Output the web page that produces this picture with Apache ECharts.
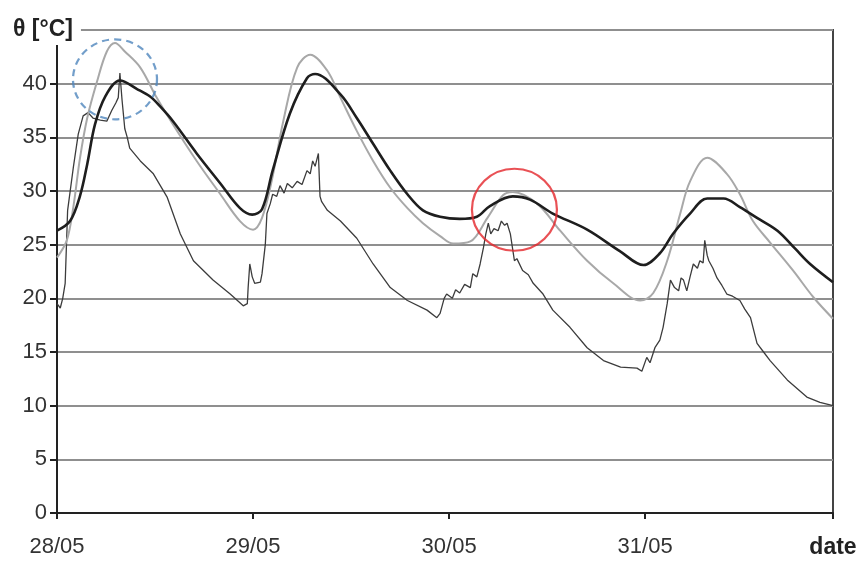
<!DOCTYPE html>
<html>
<head>
<meta charset="utf-8">
<script src="https://cdn.jsdelivr.net/npm/echarts@6/dist/echarts.min.js"></script>
<style>
html,body{margin:0;padding:0;background:#fff;}
#chart{width:862px;height:563px;}
</style>
</head>
<body>
<div id="chart"></div>
<script>
// x values are hours since 28/05 00:00
const dayLabels = ['28/05', '29/05', '30/05', '31/05'];
const yTicks = [0, 5, 10, 15, 20, 25, 30, 35, 40, 45];

// thick black line
const blackX = [0,1.6,2.8,3.7,4.65,5.9,7.7,9.8,11.4,12.6,14.2,17.1,20.0,22.4,23.9,25.1,26.4,28.5,30.6,31.6,34.7,36.7,38.7,40.8,42.9,44.8,46.9,49.3,51.4,53.0,55.8,57.9,60.7,64.9,68.9,71.8,73.8,75.4,77.5,79.6,81.6,83.6,85.7,88.2,90.4,92.2,95];
const blackY = [26.3,27.2,29.5,32.5,36.2,38.8,40.3,39.5,38.8,37.9,36.5,33.5,30.7,28.4,27.8,28.3,31.9,37.2,40.5,40.9,39.0,36.8,34.4,31.9,29.7,28.2,27.6,27.4,27.6,28.6,29.5,29.2,27.9,26.4,24.4,23.1,24.2,26.0,27.9,29.3,29.3,28.5,27.5,26.3,24.6,23.2,21.5];

// light grey line
const greyX = [0,1.2,2.0,2.8,3.7,4.9,6.1,7.1,8.3,10.2,12.2,14.2,17.1,20.0,22.4,24.0,25.1,26.3,27.7,29.4,31.0,33.1,34.7,36.7,38.7,40.8,42.9,44.8,46.9,48.5,50.6,52.7,54.6,55.8,58.8,61.6,64.9,68.1,71.4,73.0,74.7,76.3,77.5,79.6,82.0,83.6,85.2,87.3,90.1,92.6,95];
const greyY = [23.8,25.4,28.5,33.0,36.8,40.2,43.0,43.8,43.0,41.5,38.7,36.2,32.8,29.7,27.2,26.4,27.5,31.0,36.5,41.5,42.7,41.2,38.7,35.6,32.8,30.3,28.4,27.0,25.8,25.1,25.3,27.5,29.6,29.9,28.8,26.3,23.5,21.4,19.8,20.5,23.5,27.9,30.9,33.1,31.6,29.7,27.2,25.2,22.6,20.1,18.1];

// thin noisy line
const noisyX = [0,0.4,0.7,1.0,1.3,2.0,2.6,3.2,3.8,4.4,5.3,6.1,6.7,7.2,7.5,7.7,7.96,8.3,8.6,8.9,10.2,11.8,13.5,15.1,16.7,19.1,21.2,22.8,23.3,23.4,23.6,23.9,24.2,24.9,25.1,25.5,25.7,26.1,26.4,26.9,27.3,27.8,28.2,28.8,29.4,30.0,30.6,31.0,31.3,31.6,32.0,32.2,32.4,33.1,34.7,36.7,38.7,40.8,42.9,45.3,46.5,46.9,47.4,47.7,48.4,48.8,49.3,49.9,50.6,50.9,51.4,51.8,52.2,52.5,52.8,53.1,53.5,54.0,54.4,54.8,55.1,55.5,56.0,56.3,57.0,57.7,58.3,59.5,60.7,62.8,64.9,66.9,69.0,71.0,71.6,72.2,72.6,73.2,73.8,74.2,74.7,75.1,75.6,76.1,76.4,76.7,77.1,77.5,77.9,78.4,78.7,79.1,79.3,79.6,79.8,80.3,80.8,81.4,82.0,82.7,83.6,84.2,84.9,85.7,86.5,87.3,89.4,91.8,93.4,95];
const noisyY = [19.5,19.1,20.0,21.4,28.2,32.2,35.3,37.0,37.3,36.8,36.6,36.5,37.5,38.2,38.7,41.0,38.5,35.8,35.0,34.0,32.8,31.6,29.4,26.0,23.5,21.7,20.4,19.3,19.5,21.0,23.2,22.0,21.4,21.5,22.3,25.0,27.9,28.8,29.7,29.5,30.5,29.8,30.7,30.3,30.9,30.6,31.9,31.6,32.8,32.3,33.5,29.5,29.0,28.2,27.2,25.6,23.2,21.0,19.8,18.9,18.2,18.6,20.0,20.4,20.0,20.8,20.5,21.3,21.0,22.3,22.0,23.2,24.7,26.0,27.0,26.0,26.5,26.3,27.2,26.8,27.0,26.0,23.5,23.7,22.6,22.2,21.4,20.4,18.9,17.3,15.4,14.2,13.6,13.5,13.2,14.5,14.0,15.4,16.1,17.3,19.5,21.7,21.0,20.7,21.9,21.7,20.7,22.0,23.2,22.8,23.5,23.3,25.4,24.0,23.5,22.8,21.9,21.2,20.4,20.2,19.8,19.0,18.2,15.8,15.0,14.2,12.4,10.8,10.3,10.0];

// annotation circles (centre in data coords)
const blueCircle = [7.1, 40.4];
const redCircle = [56.0, 28.25];

const zip = (xs, ys) => xs.map((x, i) => [x, ys[i]]);

const chart = echarts.init(document.getElementById('chart'), null, {renderer: 'canvas'});
const font = '"Liberation Sans", Arial, sans-serif';

chart.setOption({
  animation: false,
  backgroundColor: '#ffffff',
  grid: {
    left: 57, right: 29, top: 30, bottom: 50,
    show: true, borderColor: '#444', borderWidth: 2, backgroundColor: 'transparent'
  },
  graphic: [{
    type: 'text', left: 5, top: 8, z: 100,
    style: {
      text: 'θ [°C]', font: 'bold 23px "Liberation Sans", Arial, sans-serif', fill: '#222',
      backgroundColor: '#ffffff', padding: [10, 8, 4, 8]
    }
  }],
  xAxis: {
    type: 'value', min: 0, max: 95, interval: 24,
    name: 'date', nameLocation: 'end', nameGap: 0,
    nameTextStyle: {fontFamily: font, fontWeight: 'bold', fontSize: 23, color: '#222', align: 'center', verticalAlign: 'top', padding: [23, 0, 0, 0]},
    axisLine: {show: true, onZero: false, lineStyle: {color: '#222', width: 2}},
    axisTick: {show: true, length: 6, lineStyle: {color: '#222', width: 2}},
    splitLine: {show: false},
    axisLabel: {
      fontFamily: font, fontSize: 22, color: '#333', margin: 23,
      formatter: v => (v % 24 === 0 && dayLabels[v / 24]) ? dayLabels[v / 24] : ''
    }
  },
  yAxis: {
    type: 'value', min: 0, max: 45, interval: 5,
    axisLine: {show: true, lineStyle: {color: '#222', width: 2}},
    axisTick: {show: true, length: 7, lineStyle: {color: '#222', width: 2}},
    splitLine: {show: true, lineStyle: {color: '#8f8f8f', width: 2.2}},
    axisLabel: {
      fontFamily: font, fontSize: 22, color: '#333', margin: 10,
      formatter: v => (yTicks.indexOf(v) >= 0 && v !== 45) ? String(v) : ''
    }
  },
  series: [
    {
      type: 'line', name: 'noisy', data: zip(noisyX, noisyY), showSymbol: false, smooth: false,
      lineStyle: {color: '#3c3c3c', width: 1.3}, z: 3
    },
    {
      type: 'line', name: 'grey', data: zip(greyX, greyY), showSymbol: false, smooth: 0.35,
      lineStyle: {color: '#a8a8a8', width: 2}, z: 4
    },
    {
      type: 'line', name: 'black', data: zip(blackX, blackY), showSymbol: false, smooth: 0.35,
      lineStyle: {color: '#1e1e1e', width: 2.6}, z: 5
    },
    {
      type: 'scatter', name: 'blueMark', data: [blueCircle], symbol: 'circle', symbolSize: [84, 80], silent: true,
      itemStyle: {color: 'rgba(0,0,0,0)', borderColor: '#4f86bd', borderWidth: 2.2, borderType: [7, 5]}, z: 6
    },
    {
      type: 'scatter', name: 'redMark', data: [redCircle], symbol: 'circle', symbolSize: [85, 82], silent: true,
      itemStyle: {color: 'rgba(0,0,0,0)', borderColor: '#e3262a', borderWidth: 2.2}, z: 6
    }
  ]
});
</script>
</body>
</html>
